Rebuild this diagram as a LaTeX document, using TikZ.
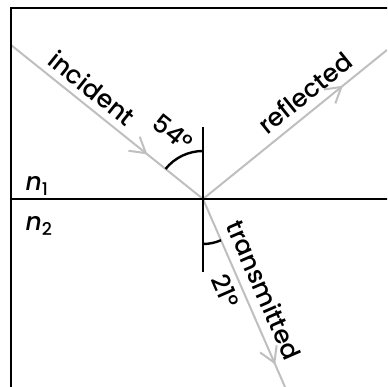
\documentclass[tikz,border=0pt]{standalone}
\usepackage{fontspec}
\setmainfont{Poppins}[UprightFont={* Medium}, ItalicFont={* Medium Italic}]
\usepackage{tikz}
\usetikzlibrary{arrows.meta, decorations.markings}
\definecolor{RayGray}{gray}{0.75}

\begin{document}
\begin{tikzpicture}[
    x=1pt, y=1pt,
    every node/.style={font=\fontsize{25}{30}\selectfont, inner sep=0pt},
    frame/.style={draw=black, line width=2.8pt},
    ray/.style={draw=RayGray, line width=2pt, postaction={decorate},
      decoration={markings, mark=at position #1 with {\arrow[line width=2pt]{Straight Barb[length=15pt, width=18pt]}}}},
    angarc/.style={draw=black, line width=2.4pt}
  ]
    \useasboundingbox (0,0) rectangle (387,387);
    \clip (0,0) rectangle (387,387);
    \coordinate (O) at (203,188);
    \coordinate (A) at (11,342);
    \coordinate (R) at (387,337);
    \coordinate (T) at (285,0);
    \coordinate (Ntop) at (203,260);
    \coordinate (Nbot) at (203,115);
    \coordinate (Lft) at (11,188);
    \coordinate (Rgt) at (400,188);
    % rays
    \draw[ray=0.71] (A) -- (O);
    \draw[ray=0.76] (O) -- (R);
    \draw[ray=0.88] (O) -- (T);
    % boundary, normal, box
    \draw[frame] (11,-20) rectangle (420,379);
    \draw[frame] (Lft) -- (Rgt);
    \draw[frame] (Ntop) -- (Nbot);
    \draw[angarc] (O) ++(90:48pt) arc[start angle=90, end angle=141.3, radius=48pt];
    \draw[angarc] (O) ++(270:45pt) arc[start angle=270, end angle=293.6, radius=45pt];
    \node[rotate=-38.7] (inc) at (92,299) {incident};
    \node[rotate=39] (refl) at (305,294) {reflected};
    \node[rotate=-66.4] (trans) at (264,97) {transmitted};
    \node[rotate=-38.7] (thI) at (173,254) {54°};
    \node[rotate=-66.4] (thT) at (226,96) {21°};
    \node (n1) at (37,201) {\textit{n}\textsubscript{1}};
    \node (n2) at (39,161) {\textit{n}\textsubscript{2}};
  \end{tikzpicture}
\end{document}
